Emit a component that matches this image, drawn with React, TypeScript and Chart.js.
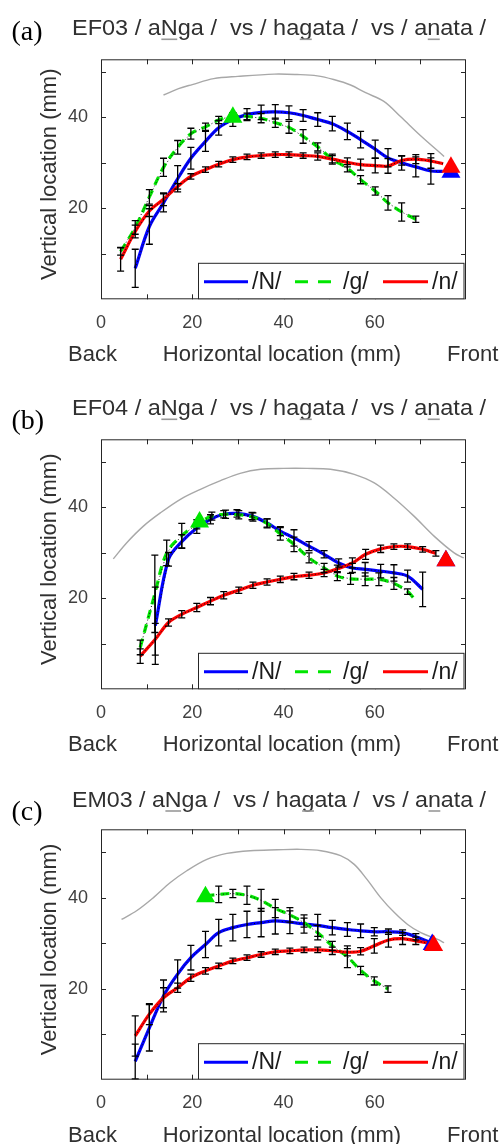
import React, { useEffect, useRef } from 'react';
import { Chart, registerables } from 'chart.js';

Chart.register(...registerables);

// ---------------- data ----------------
const panelLabels = ['(a)', '(b)', '(c)'];
const speakers = ['EF03', 'EF04', 'EM03'];
const seriesNames = ['/N/', '/g/', '/n/'];
const xTickLabels = ['0', '20', '40', '60'];
const yTickLabels = ['20', '40'];

// panel (a)
const aPalX = [13.7, 17, 20, 24.7, 30, 38, 43, 47.4, 51, 54.7, 58, 62, 65.7, 70, 75.2];
const aPalY = [44.9, 46.3, 47.2, 48.5, 49.0, 49.5, 49.4, 49.1, 48.3, 47.1, 45.4, 43.5, 40.1, 36.0, 31.4];
const aNx = [7.5, 10.6, 13.7, 16.8, 19.7, 22.9, 25.8, 28.9, 32.0, 35.1, 38.2, 41.2, 44.3, 47.5, 50.7, 54.0, 56.9, 60.1, 62.9, 65.9, 69.0, 72.3, 74.9];
const aNy = [6.8, 16.0, 21.2, 26.5, 31.0, 34.7, 37.7, 39.5, 40.6, 41.1, 41.2, 41.0, 40.4, 39.5, 38.6, 36.9, 35.1, 33.0, 31.1, 30.0, 29.1, 28.2, 28.1];
const aNe = [4.2, 3.9, 2.0, 2.9, 2.4, 2.2, 1.6, 1.5, 1.3, 1.6, 1.6, 1.5, 1.3, 1.5, 1.6, 1.8, 1.8, 2.0, 2.0, 1.6, 2.2, 2.9, 0];
const aGx = [4.3, 7.5, 10.6, 13.7, 16.8, 19.7, 22.9, 25.8, 28.9, 32.0, 35.1, 38.2, 41.2, 44.3, 47.5, 50.7, 54.0, 56.9, 60.1, 62.9, 65.9, 69.0];
const aGy = [10.5, 15.8, 22.5, 29.0, 33.4, 36.4, 37.9, 39.4, 40.4, 40.2, 39.8, 38.8, 37.8, 35.8, 33.5, 30.8, 28.8, 26.3, 23.8, 21.2, 19.2, 17.6];
const aGe = [0.8, 1.5, 1.6, 2.0, 1.5, 1.2, 0.8, 0.8, 0.6, 0.7, 1.0, 1.0, 1.3, 1.5, 0.9, 1.1, 0.8, 0.9, 0.9, 1.6, 2.0, 0.7];
const aRx = [4.3, 7.5, 10.6, 13.7, 16.8, 19.7, 22.9, 25.8, 28.9, 32.0, 35.1, 38.2, 41.2, 44.3, 47.5, 50.7, 54.0, 56.9, 60.1, 62.9, 65.9, 69.0, 72.3, 75.0];
const aRy = [8.8, 14.9, 19.4, 22.0, 24.8, 27.0, 28.5, 29.7, 30.7, 31.3, 31.6, 31.8, 31.8, 31.6, 31.4, 30.8, 30.1, 29.6, 29.4, 29.3, 30.5, 30.8, 30.4, 29.8];
const aRe = [2.6, 1.4, 1.2, 1.4, 0.6, 0.6, 0.6, 0.6, 0.6, 0.6, 0.6, 0.6, 0.6, 0.6, 0.8, 0.8, 1.0, 1.2, 1.6, 1.6, 1.0, 1.0, 1.6, 0];
const aTriX = [28.9, 76.7, 76.7];
const aTriY = [40.0, 27.9, 29.0];

// panel (b)
const bPalX = [2.7, 5.6, 9.3, 13.0, 17.4, 21.8, 26.2, 30.5, 35.0, 40.0, 45.2, 50.3, 55.5, 59.9, 64.2, 68.6, 73.0, 77.4, 79.5];
const bPalY = [28.7, 32.2, 35.9, 38.8, 41.8, 44.0, 45.9, 47.5, 48.4, 48.6, 48.6, 48.4, 47.3, 45.4, 42.1, 38.1, 33.7, 30.0, 28.9];
const bNx = [11.9, 14.8, 17.7, 21.0, 24.0, 26.9, 29.8, 33.1, 36.4, 39.3, 42.3, 45.6, 48.9, 52.1, 55.1, 57.9, 61.3, 64.2, 67.2, 70.5];
const bNy = [14.0, 28.6, 32.5, 35.5, 37.4, 38.5, 38.7, 38.1, 36.6, 34.8, 33.3, 31.5, 29.7, 27.8, 26.7, 26.4, 26.0, 25.6, 24.9, 22.0];
const bNe = [8.5, 1.5, 1.5, 1.2, 1.0, 0.8, 0.8, 0.8, 0.9, 1.0, 1.8, 1.0, 0.8, 0.9, 1.0, 1.5, 1.5, 1.8, 1.3, 3.8];
const bGx = [8.6, 11.8, 14.4, 17.7, 21.0, 24.3, 27.3, 30.2, 33.3, 36.4, 39.3, 42.3, 45.6, 48.9, 51.8, 54.7, 57.9, 60.9, 64.2, 67.2, 68.6];
const bGy = [9.2, 21.0, 30.0, 33.8, 36.3, 38.1, 38.5, 38.4, 37.9, 36.5, 34.2, 31.9, 28.9, 26.7, 24.9, 24.3, 24.2, 24.2, 23.3, 21.5, 20.0];
const bGe = [1.6, 8.5, 2.8, 2.7, 1.0, 0.9, 0.9, 0.9, 0.9, 1.0, 1.4, 1.6, 1.1, 1.0, 1.0, 1.2, 1.4, 1.4, 1.3, 0.6, 0];
const bRx = [8.6, 11.9, 14.8, 17.7, 21.0, 24.0, 26.9, 30.2, 33.3, 36.4, 39.3, 42.3, 45.6, 48.9, 51.8, 55.1, 58.0, 61.3, 64.2, 67.2, 70.5, 73.4];
const bRy = [7.3, 11.0, 14.7, 16.5, 18.0, 19.4, 20.7, 21.8, 22.9, 23.6, 24.2, 24.8, 25.1, 25.6, 26.5, 27.8, 29.7, 30.9, 31.4, 31.4, 30.8, 29.9];
const bRe = [1.6, 3.5, 0.8, 0.8, 0.9, 0.8, 0.8, 0.7, 0.7, 0.7, 0.7, 0.7, 0.7, 0.8, 0.8, 1.1, 1.1, 0.8, 0.6, 0.6, 0.6, 0.6];
const bTriX = [21.6, 75.6, 75.6];
const bTriY = [36.8, 28.3, 28.3];

// panel (c)
const cPalX = [4.5, 7.8, 11.5, 15.2, 18.8, 23.2, 27.6, 32.7, 38.6, 43.7, 48.2, 52.5, 55.5, 58.3, 61.3, 64.3, 67.2, 70.1, 73.8, 75.2];
const cPalY = [35.2, 37.1, 40.0, 43.3, 45.9, 48.4, 49.7, 50.3, 50.5, 50.6, 50.3, 49.2, 47.3, 44.0, 40.0, 36.7, 34.1, 32.3, 30.8, 30.1];
const cNx = [7.5, 10.6, 13.7, 16.8, 19.7, 22.9, 25.8, 28.9, 32.0, 35.1, 38.2, 41.4, 44.5, 47.5, 50.7, 54.0, 56.9, 59.9, 63.0, 66.1, 69.0, 71.8];
const cNy = [4.0, 11.4, 18.4, 23.2, 26.8, 29.7, 32.3, 33.4, 34.1, 34.5, 34.9, 34.6, 34.2, 33.9, 33.4, 33.0, 32.7, 32.5, 32.5, 32.3, 31.4, 30.3];
const cNe = [3.8, 5.1, 3.5, 3.1, 2.7, 2.9, 2.9, 2.9, 2.9, 3.1, 2.9, 2.5, 2.0, 2.4, 1.6, 1.5, 1.5, 0.9, 0.6, 0.6, 0.7, 0];
const cGx = [22.9, 25.8, 28.9, 32.0, 35.1, 38.2, 41.4, 44.5, 47.5, 50.7, 54.0, 56.9, 59.9, 62.9];
const cGy = [40.4, 40.7, 40.9, 40.5, 39.4, 37.6, 36.2, 34.5, 32.3, 29.4, 27.0, 24.0, 21.7, 19.9];
const cGe = [0, 1.8, 0.9, 2.0, 2.4, 2.0, 1.6, 1.0, 1.6, 1.0, 2.4, 0.9, 0.9, 0.7];
const cRx = [7.5, 10.6, 13.7, 16.8, 19.7, 22.9, 25.8, 28.9, 32.0, 35.1, 38.2, 41.4, 44.5, 47.5, 50.7, 54.0, 56.9, 59.9, 63.0, 66.1, 69.0, 71.8];
const cRy = [9.6, 14.4, 18.0, 20.2, 22.4, 23.9, 25.0, 26.1, 26.8, 27.5, 28.1, 28.3, 28.5, 28.5, 28.3, 28.0, 28.2, 29.4, 30.7, 31.0, 30.5, 30.0];
const cRe = [4.4, 2.3, 2.2, 1.0, 0.8, 0.7, 0.6, 0.6, 0.6, 0.6, 0.6, 0.6, 0.6, 0.6, 0.8, 0.8, 0.8, 1.6, 1.6, 1.3, 0.8, 0];
const cTriX = [22.9, 72.6, 72.9];
const cTriY = [40.2, 29.7, 29.5];

// ---------------- styling ----------------
const SANS = "'Liberation Sans', Arial, sans-serif";
const SERIF = "'Liberation Serif', 'Times New Roman', serif";
const AX = '#262626';
const TXT = '#303030';
const BLUE = '#0000ff';
const GREEN = '#00e600';
const RED = '#ff0000';
const TRI_COLORS = [GREEN, BLUE, RED];

type PanelCfg = {
  idx: number;
  top: number;
  h: number;
  plotTop: number;
  plotBottom: number;
  ymax: number;
  labelBase: number;
  titleBase: number;
  pal: [number[], number[]];
  N: [number[], number[], number[]];
  G: [number[], number[], number[]];
  R: [number[], number[], number[]];
  tri: [number[], number[]];
};

const PANELS: PanelCfg[] = [
  { idx: 0, top: 0, h: 390, plotTop: 59.3, plotBottom: 299.3, ymax: 52.75, labelBase: 40, titleBase: 35,
    pal: [aPalX, aPalY], N: [aNx, aNy, aNe], G: [aGx, aGy, aGe], R: [aRx, aRy, aRe], tri: [aTriX, aTriY] },
  { idx: 1, top: 390, h: 390, plotTop: 49.3, plotBottom: 299.3, ymax: 55, labelBase: 38.5, titleBase: 25,
    pal: [bPalX, bPalY], N: [bNx, bNy, bNe], G: [bGx, bGy, bGe], R: [bRx, bRy, bRe], tri: [bTriX, bTriY] },
  { idx: 2, top: 780, h: 364, plotTop: 49.3, plotBottom: 299.7, ymax: 55, labelBase: 40, titleBase: 26.7,
    pal: [cPalX, cPalY], N: [cNx, cNy, cNe], G: [cGx, cGy, cGe], R: [cRx, cRy, cRe], tri: [cTriX, cTriY] },
];

const XAXIS_H = 40;

function pts(xs: number[], ys: number[]) {
  return xs.map((x, i) => ({ x, y: ys[i] }));
}

function buildConfig(p: PanelCfg): any {
  const ser = [
    { d: p.N, color: BLUE, dash: [] as number[], order: 9 },
    { d: p.G, color: GREEN, dash: [9, 6], order: 8 },
    { d: p.R, color: RED, dash: [] as number[], order: 7 },
  ];
  const datasets: any[] = [];
  datasets.push({
    label: 'palate', data: pts(p.pal[0], p.pal[1]), borderColor: '#a8a8a8', borderWidth: 1.4,
    pointRadius: 0, tension: 0.35, order: 10, fill: false,
  });
  ser.forEach((s, i) => datasets.push({
    label: seriesNames[i], data: pts(s.d[0], s.d[1]), borderColor: s.color, borderWidth: 3.2,
    borderDash: s.dash, pointRadius: 0, tension: 0.35, order: s.order, fill: false,
  }));
  ser.forEach((s, i) => datasets.push({
    label: seriesNames[i] + ' mean', data: pts(s.d[0], s.d[1]), borderColor: '#111', borderWidth: 1,
    borderDash: [1, 2.5], pointRadius: 0, tension: 0, order: 3, fill: false, errs: s.d[2],
  }));
  datasets.push({
    type: 'scatter', label: 'tip', data: pts(p.tri[0], p.tri[1]), pointStyle: 'triangle', pointRadius: 11,
    pointHoverRadius: 11, backgroundColor: TRI_COLORS, borderColor: TRI_COLORS, borderWidth: 0, order: 0,
  });

  const decor = {
    id: 'decor' + p.idx,
    afterDatasetDraw(chart: any, args: any) {
      const ds = chart.data.datasets[args.index];
      if (!ds || !ds.errs) return;
      const ctx = chart.ctx;
      const xs = chart.scales.x, ys = chart.scales.y;
      ctx.save();
      ctx.strokeStyle = '#000';
      ctx.lineWidth = 1.3;
      ds.data.forEach((pt: any, i: number) => {
        const e = ds.errs[i];
        if (!e) return;
        const px = xs.getPixelForValue(pt.x);
        const y0 = ys.getPixelForValue(pt.y - e);
        const y1 = ys.getPixelForValue(pt.y + e);
        ctx.beginPath();
        ctx.moveTo(px, y0); ctx.lineTo(px, y1);
        ctx.moveTo(px - 3.5, y0); ctx.lineTo(px + 3.5, y0);
        ctx.moveTo(px - 3.5, y1); ctx.lineTo(px + 3.5, y1);
        ctx.stroke();
      });
      ctx.restore();
    },
    afterDraw(chart: any) {
      const ctx = chart.ctx;
      const ca = chart.chartArea;
      const xs = chart.scales.x, ys = chart.scales.y;
      ctx.save();
      // inward tick marks on all four sides
      ctx.strokeStyle = AX;
      ctx.lineWidth = 1;
      ctx.beginPath();
      xs.ticks.forEach((t: any) => {
        if (t.value <= xs.min || t.value >= xs.max) return;
        const px = Math.round(xs.getPixelForValue(t.value)) + 0.5;
        ctx.moveTo(px, ca.bottom); ctx.lineTo(px, ca.bottom - 5);
        ctx.moveTo(px, ca.top); ctx.lineTo(px, ca.top + 5);
      });
      ys.ticks.forEach((t: any) => {
        if (t.value <= ys.min || t.value >= ys.max) return;
        const py = Math.round(ys.getPixelForValue(t.value)) + 0.5;
        ctx.moveTo(ca.left, py); ctx.lineTo(ca.left + 5, py);
        ctx.moveTo(ca.right, py); ctx.lineTo(ca.right - 5, py);
      });
      ctx.stroke();
      // box
      ctx.strokeRect(ca.left + 0.5, ca.top + 0.5, ca.right - ca.left - 1, ca.bottom - ca.top - 1);

      // legend
      const lx0 = ca.left + 97, lx1 = ca.right - 1.5;
      const ly1 = ca.bottom, ly0 = ca.bottom - 36.5;
      ctx.fillStyle = '#fff';
      ctx.fillRect(lx0, ly0, lx1 - lx0, ly1 - ly0);
      ctx.strokeStyle = AX;
      ctx.lineWidth = 1;
      ctx.strokeRect(lx0 + 0.5, ly0 + 0.5, lx1 - lx0 - 1, ly1 - ly0 - 1);
      const ly = ly1 - 17.5;
      const items = [
        { x0: 204, x1: 248, tx: 252, color: BLUE, dash: [] as number[] },
        { x0: 295, x1: 337, tx: 343, color: GREEN, dash: [13, 10] },
        { x0: 383, x1: 428, tx: 432, color: RED, dash: [] as number[] },
      ];
      items.forEach((it, i) => {
        ctx.strokeStyle = it.color;
        ctx.lineWidth = 3;
        ctx.setLineDash(it.dash);
        ctx.beginPath();
        ctx.moveTo(it.x0, ly); ctx.lineTo(it.x1, ly);
        ctx.stroke();
        ctx.setLineDash([]);
        ctx.fillStyle = '#1a1a1a';
        ctx.font = `23px ${SANS}`;
        ctx.textBaseline = 'middle';
        ctx.textAlign = 'left';
        ctx.fillText(seriesNames[i], it.tx, ly + 0.5);
      });

      // panel letter
      ctx.fillStyle = '#000';
      ctx.font = `28px ${SERIF}`;
      ctx.textBaseline = 'alphabetic';
      ctx.textAlign = 'left';
      ctx.fillText(panelLabels[p.idx], 11.5, p.labelBase);

      // title with underlined phonemes
      const segs = [speakers[p.idx] + ' / a', 'N', 'ga /  vs / ha', 'g', 'ata /  vs / a', 'n', 'ata /'];
      ctx.font = `21.5px ${SANS}`;
      const full = segs.join('');
      const w = ctx.measureText(full).width;
      const sx = 414 / w;
      ctx.save();
      ctx.translate(72, p.titleBase);
      ctx.scale(sx, 1);
      ctx.fillStyle = TXT;
      let cx = 0;
      segs.forEach((s, i) => {
        ctx.fillText(s, cx, 0);
        const sw = ctx.measureText(s).width;
        if (i % 2 === 1) {
          ctx.fillStyle = '#9a9a9a';
          ctx.fillRect(cx + 0.5, 3.5, sw - 1, 1.6);
          ctx.fillStyle = TXT;
        }
        cx += sw;
      });
      ctx.restore();

      // axis titles
      ctx.fillStyle = TXT;
      ctx.font = `22px ${SANS}`;
      ctx.save();
      ctx.translate(55.5, (ca.top + ca.bottom) / 2 - 5);
      ctx.rotate(-Math.PI / 2);
      ctx.textAlign = 'center';
      ctx.textBaseline = 'alphabetic';
      ctx.fillText('Vertical location (mm)', 0, 0);
      ctx.restore();
      const xb = ca.bottom + 62;
      ctx.textAlign = 'center';
      ctx.fillText('Horizontal location (mm)', 282, xb);
      ctx.textAlign = 'left';
      ctx.fillText('Back', 68, xb);
      ctx.fillText('Front', 447, xb);
      ctx.restore();
    },
  };

  return {
    type: 'line',
    data: { datasets },
    options: {
      responsive: false,
      animation: false,
      events: [],
      layout: { padding: { left: 0, right: 38, top: p.plotTop, bottom: p.h - p.plotBottom - XAXIS_H } },
      plugins: { legend: { display: false }, tooltip: { enabled: false }, title: { display: false } },
      scales: {
        x: {
          type: 'linear', min: 0, max: 80,
          grid: { display: false, drawTicks: false },
          border: { display: false },
          afterFit: (s: any) => { s.height = XAXIS_H; },
          ticks: {
            stepSize: 10, autoSkip: false, includeBounds: false, maxRotation: 0, padding: 13,
            color: '#404040', font: { family: SANS, size: 18 },
            callback: (v: any) => { const t = String(v); return xTickLabels.includes(t) ? t : ''; },
          },
        },
        y: {
          type: 'linear', min: 0, max: p.ymax,
          grid: { display: false, drawTicks: false },
          border: { display: false },
          afterFit: (s: any) => { s.width = 101; },
          ticks: {
            stepSize: 10, autoSkip: false, includeBounds: false, padding: 13,
            color: '#404040', font: { family: SANS, size: 18 },
            callback: (v: any) => { const t = String(v); return yTickLabels.includes(t) ? t : ''; },
          },
        },
      },
    },
    plugins: [decor],
  };
}

function Panel({ cfg }: { cfg: PanelCfg }) {
  const ref = useRef<HTMLCanvasElement>(null);
  useEffect(() => {
    if (!ref.current) return;
    const chart = new Chart(ref.current, buildConfig(cfg));
    return () => chart.destroy();
  }, [cfg]);
  return (
    <canvas
      ref={ref}
      width={504}
      height={cfg.h}
      style={{ position: 'absolute', left: 0, top: cfg.top, width: 504, height: cfg.h }}
    />
  );
}

export default function App() {
  return (
    <div style={{ position: 'absolute', left: 0, top: 0, width: 504, height: 1144, background: '#fff', overflow: 'hidden' }}>
      {PANELS.map((p) => (
        <Panel key={p.idx} cfg={p} />
      ))}
    </div>
  );
}
